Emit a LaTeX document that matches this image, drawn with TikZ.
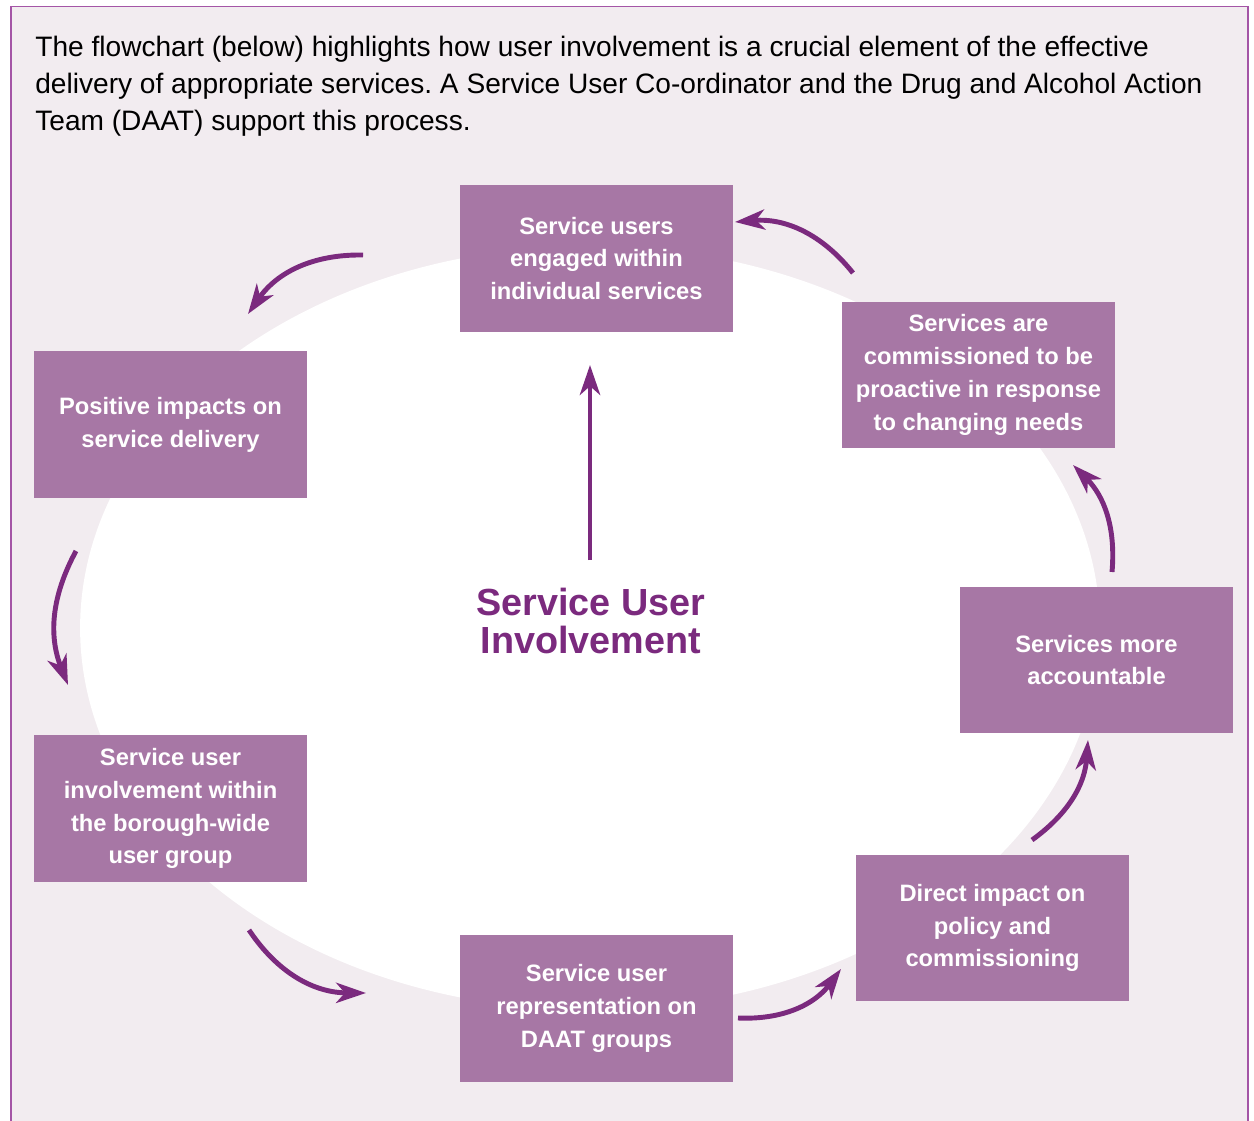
\documentclass[tikz,border=0pt]{standalone}
\usepackage{fontspec}
\setmainfont{Liberation Sans}
\usepackage{tikz}
\usetikzlibrary{arrows.meta}
\definecolor{fond}{HTML}{F2ECF0}
\definecolor{cadre}{HTML}{A455A6}
\definecolor{boite}{HTML}{A777A5}
\definecolor{fleche}{HTML}{7B2A7E}
\tikzset{
	boite/.style={fill=boite, text=white, align=center, inner sep=0pt,
		minimum width=5.46cm, minimum height=2.94cm,
		font=\fontsize{13.5}{18.7}\selectfont\bfseries},
	fleche/.style={draw=fleche, line width=2.8pt,
		-{Stealth[length=17pt,width=11.5pt,inset=5pt]}},
	courbe/.style={fleche, bend right=#1},
	courbe/.default=28
}
\frenchspacing
\begin{document}
\begin{tikzpicture}[x=0.02cm,y=-0.02cm]
%					Cadre et fond :
					\useasboundingbox (0,0) rectangle (1254,1121);
					\fill[fond] (11,6.5) rectangle (1248,1130);
					\draw[cadre,line width=0.8pt] (11,1130) -- (11,6.5) -- (1248,6.5) -- (1248,1130);
					\fill[white] (590,628) ellipse [x radius=10.2cm, y radius=7.64cm];
%					Texte d'introduction :
					\node[anchor=north west, align=left, inner sep=0pt,
						font=\fontsize{16}{21}\selectfont] (intro) at (35,36)
						{The flowchart (below) highlights how user involvement is a crucial element of the effective\\
						delivery of appropriate services. A Service User Co-ordinator and the Drug and Alcohol Action\\
						Team (DAAT) support this process.};
%					Les boites :
					\node[boite] (engages) at (596.5,258.5) {Service users\\engaged within\\individual services};
					\node[boite] (proactifs) at (978.5,375) {Services are\\commissioned to be\\proactive in response\\to changing needs};
					\node[boite] (comptables) at (1096.5,660) {Services more\\accountable};
					\node[boite] (impact) at (992.5,928) {Direct impact on\\policy and\\commissioning};
					\node[boite] (daat) at (596.5,1008.5) {Service user\\representation on\\DAAT groups};
					\node[boite] (groupe) at (170.5,808.5) {Service user\\involvement within\\the borough-wide\\user group};
					\node[boite] (positifs) at (170.5,424.5) {Positive impacts on\\service delivery};
%					Titre central :
					\node[align=center, text=fleche, font=\fontsize{21.5}{21.5}\selectfont\bfseries] (centre) at (591,621) {Service User\\Involvement};
%					Extremites des fleches :
					\coordinate (d0) at (590,560);  \coordinate (a0) at (590,365);
					\coordinate (d1) at (853,273);  \coordinate (a1) at (735,222);
					\coordinate (d2) at (1112,572); \coordinate (a2) at (1073,465);
					\coordinate (d3) at (1032,840); \coordinate (a3) at (1088,740);
					\coordinate (d4) at (738,1018); \coordinate (a4) at (841,969);
					\coordinate (d5) at (249,930);  \coordinate (a5) at (366,993);
					\coordinate (d6) at (76,551);   \coordinate (a6) at (68,685);
					\coordinate (d7) at (363,255);  \coordinate (a7) at (248,314);
%					Tracé des fleches :
					\draw[fleche] (d0) -- (a0);
					\draw[courbe] (d1) to (a1);
					\draw[courbe=25] (d2) to (a2);
					\draw[courbe=25] (d3) to (a3);
					\draw[courbe] (d4) to (a4);
					\draw[courbe] (d5) to (a5);
					\draw[courbe=25] (d6) to (a6);
					\draw[courbe] (d7) to (a7);
				\end{tikzpicture}
\end{document}
